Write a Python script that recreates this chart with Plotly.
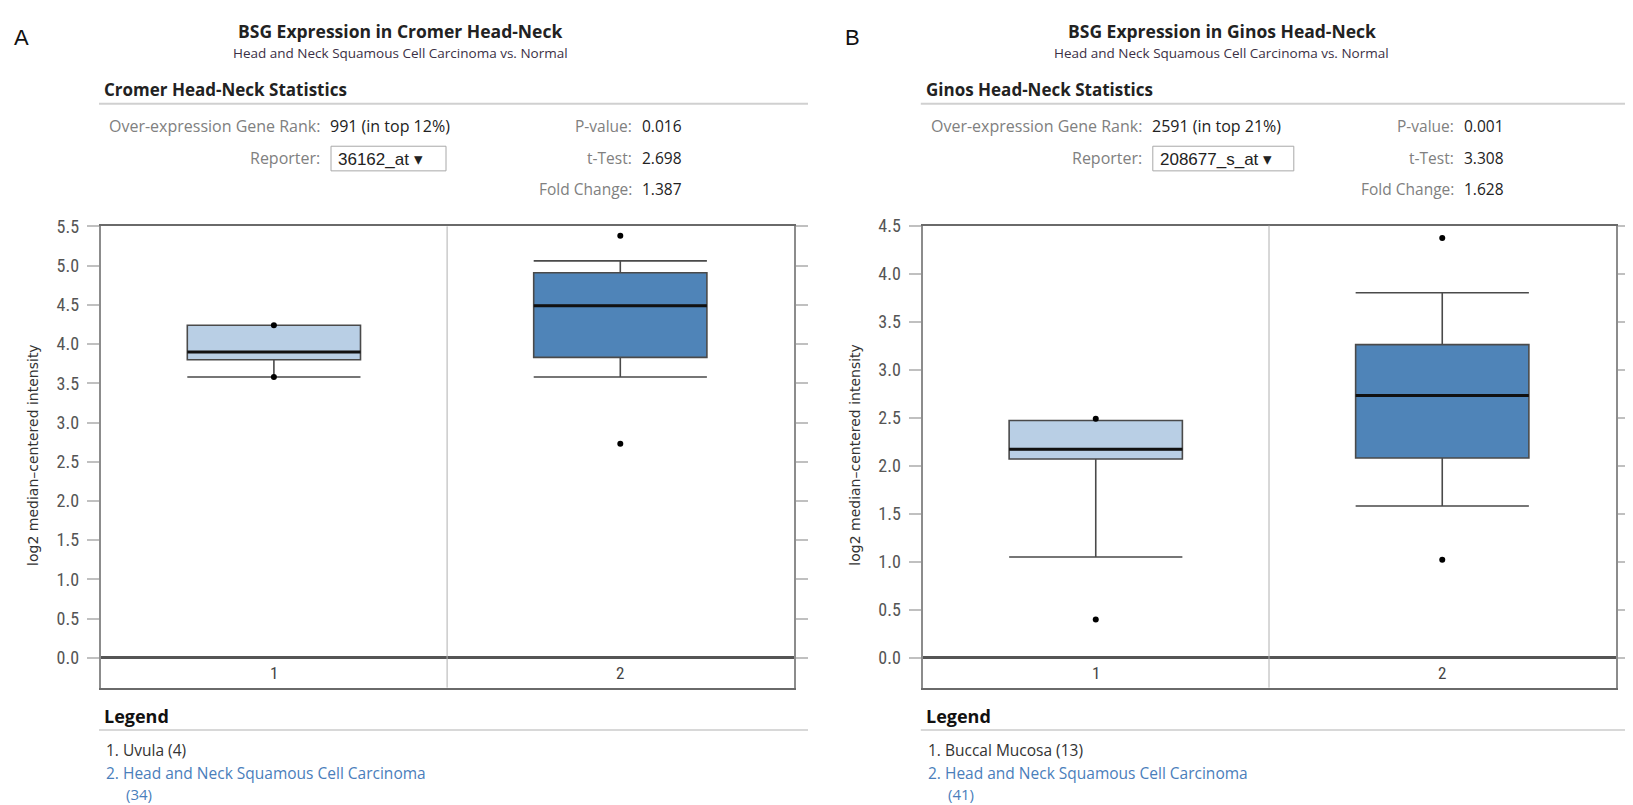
import plotly.graph_objects as go

# page body adds an 8px margin; the figure is sized to fill the rest of the window
PAGE_W, PAGE_H, BODY_M = 1633, 805, 8
W, H = PAGE_W - BODY_M, PAGE_H - BODY_M

# ---------------- data ----------------
categories = [1, 2]
cat_labels = ["1", "2"]

# Panel A: Cromer Head-Neck (reporter 36162_at)
a_q1 = [3.80, 3.83]
a_median = [3.90, 4.49]
a_q3 = [4.24, 4.91]
a_lowerfence = [3.58, 3.58]
a_upperfence = [4.24, 5.06]
a_min = [3.58, 2.73]
a_max = [4.24, 5.38]

# Panel B: Ginos Head-Neck (reporter 208677_s_at)
b_q1 = [2.07, 2.08]
b_median = [2.17, 2.73]
b_q3 = [2.47, 3.26]
b_lowerfence = [1.05, 1.58]
b_upperfence = [2.47, 3.80]
b_min = [0.40, 1.02]
b_max = [2.49, 4.37]

a_title = "BSG Expression in Cromer Head-Neck"
b_title = "BSG Expression in Ginos Head-Neck"
subtitle = "Head and Neck Squamous Cell Carcinoma vs. Normal"
a_stats_title = "Cromer Head-Neck Statistics"
b_stats_title = "Ginos Head-Neck Statistics"
a_rank = "991 (in top 12%)"
b_rank = "2591 (in top 21%)"
a_reporter = "36162_at ▾"
b_reporter = "208677_s_at ▾"
a_pvalue, a_ttest, a_fold = "0.016", "2.698", "1.387"
b_pvalue, b_ttest, b_fold = "0.001", "3.308", "1.628"
a_legend = ["1. Uvula (4)", "2. Head and Neck Squamous Cell Carcinoma", "(34)"]
b_legend = ["1. Buccal Mucosa (13)", "2. Head and Neck Squamous Cell Carcinoma", "(41)"]
y_title = "log2 median\u2013centered intensity"

a_yrange = [-0.38, 5.5]
b_yrange = [-0.31, 4.5]

# ---------------- style ----------------
FILL = ["#B9CFE5", "#4F84B8"]
BOX_W = 0.5
NARROW = "Liberation Sans Narrow, Roboto Condensed, DejaVu Sans Condensed, Arial Narrow, sans-serif"
TXT = "Open Sans, Lato, sans-serif"
SANS = "DejaVu Sans, Verdana, sans-serif"
LEG_BLUE = "#4A7EBB"


def px(x):
    return (x - BODY_M) / W


def py(y):
    return 1 - (y - BODY_M) / H


fig = go.Figure()
annotations = []
shapes = []


def note(x, y, text, size, color, family=TXT, xanchor="left", **kw):
    annotations.append(dict(x=px(x), y=py(y), xref="paper", yref="paper", text=text, showarrow=False,
                            xanchor=xanchor, yanchor="middle",
                            font=dict(family=family, size=size, color=color), **kw))


panels = [
    dict(dx=0.0, xa="x", ya="y", q1=a_q1, med=a_median, q3=a_q3, lf=a_lowerfence, uf=a_upperfence,
         mn=a_min, mx=a_max, yr=a_yrange, title=a_title, stats=a_stats_title, rank=a_rank,
         rep=a_reporter, pv=a_pvalue, tt=a_ttest, fc=a_fold, leg=a_legend, letter="A",
         rep_w=115, letter_x=12),
    dict(dx=821.8, xa="x2", ya="y2", q1=b_q1, med=b_median, q3=b_q3, lf=b_lowerfence, uf=b_upperfence,
         mn=b_min, mx=b_max, yr=b_yrange, title=b_title, stats=b_stats_title, rank=b_rank,
         rep=b_reporter, pv=b_pvalue, tt=b_ttest, fc=b_fold, leg=b_legend, letter="B",
         rep_w=141, letter_x=843),
]

for i, p in enumerate(panels):
    dx = p["dx"]
    xa, ya = p["xa"], p["ya"]
    for k, c in enumerate(categories):
        fig.add_trace(go.Box(
            x=[c], q1=[p["q1"][k]], median=[p["med"][k]], q3=[p["q3"][k]],
            lowerfence=[p["lf"][k]], upperfence=[p["uf"][k]],
            width=BOX_W, whiskerwidth=1, fillcolor=FILL[k],
            line=dict(color="#4a4a4a", width=1.6), boxpoints=False,
            xaxis=xa, yaxis=ya, showlegend=False, hoverinfo="skip"))
        fig.add_trace(go.Scatter(
            x=[c - BOX_W / 2, c + BOX_W / 2], y=[p["med"][k], p["med"][k]],
            mode="lines", line=dict(color="#111", width=3),
            xaxis=xa, yaxis=ya, showlegend=False, hoverinfo="skip"))
        fig.add_trace(go.Scatter(
            x=[c, c], y=[p["mn"][k], p["mx"][k]], mode="markers",
            marker=dict(color="#000", size=6),
            xaxis=xa, yaxis=ya, showlegend=False, hoverinfo="skip"))

    shapes.append(dict(type="line", xref=xa, yref=f"{ya} domain", x0=1.5, x1=1.5, y0=0, y1=1,
                       line=dict(color="#b0b0b0", width=1)))
    for c, lab in zip(categories, cat_labels):
        annotations.append(dict(x=c, y=p["yr"][0] / 2, xref=xa, yref=ya, text=lab, showarrow=False,
                                xanchor="center", yanchor="middle",
                                font=dict(family=NARROW, size=17, color="#444")))

    # ---- header ----
    note(p["letter_x"], 27, p["letter"], 22, "#111", family="Liberation Sans, Arial, sans-serif")
    note(400 + dx, 20, f"<b>{p['title']}</b>", 17.5, "#222", xanchor="center")
    note(400 + dx, 42, subtitle, 13.5, "#3b3045", xanchor="center")
    note(102 + dx, 79, f"<b>{p['stats']}</b>", 17, "#222")
    shapes.append(dict(type="line", xref="paper", yref="paper", x0=px(99 + dx), x1=px(808 + dx),
                       y0=py(94), y1=py(94), line=dict(color="#d0d0d0", width=2)))

    rows_y = [117, 149, 180]
    note(322 + dx, rows_y[0], "Over-expression Gene Rank:", 16, "#808080", xanchor="right")
    note(328 + dx, rows_y[0], p["rank"], 16, "#222")
    note(322 + dx, rows_y[1], "Reporter:", 16, "#808080", xanchor="right")
    shapes.append(dict(type="rect", xref="paper", yref="paper", x0=px(331 + dx), x1=px(331 + p["rep_w"] + dx),
                       y0=py(162), y1=py(137), line=dict(color="#a8a8a8", width=1), fillcolor="white"))
    note(336 + dx, 150, p["rep"], 17, "#222", family="Liberation Sans, Arial, sans-serif")
    for lab, val, yy in [("P-value:", p["pv"], rows_y[0]), ("t-Test:", p["tt"], rows_y[1]),
                         ("Fold Change:", p["fc"], rows_y[2])]:
        note(634 + dx, yy, lab, 15.5, "#808080", xanchor="right")
        note(640 + dx, yy, val, 15.5, "#222")

    note(33 + dx, 450, y_title, 14, "#333", family=SANS, xanchor="center", textangle=-90)

    # ---- legend block ----
    note(102 + dx, 715, "<b>Legend</b>", 18, "#111")
    shapes.append(dict(type="line", xref="paper", yref="paper", x0=px(99 + dx), x1=px(808 + dx),
                       y0=py(729), y1=py(729), line=dict(color="#d8d8d8", width=2)))
    note(104 + dx, 749, p["leg"][0], 15.5, "#333")
    note(104 + dx, 773, p["leg"][1], 15.5, LEG_BLUE)
    note(124 + dx, 794, p["leg"][2], 15, LEG_BLUE)

yaxis_common = dict(showgrid=False, zeroline=True, zerolinecolor="#555", zerolinewidth=2.5,
                    showline=True, linecolor="#8c8c8c", linewidth=2, mirror="ticks",
                    ticks="outside", ticklen=12, tickcolor="#c0c0c0", tickwidth=1.5,
                    tick0=0, dtick=0.5, tickformat=".1f", ticklabelstandoff=4,
                    tickfont=dict(family=NARROW, size=18, color="#555"))
xaxis_common = dict(showgrid=False, zeroline=False, showline=True, linecolor="#6a6a6a", linewidth=2,
                    mirror=True, showticklabels=False, ticks="", range=[0.5, 2.5])

fig.update_layout(
    width=W, height=H, margin=dict(l=0, r=0, t=0, b=0),
    paper_bgcolor="white", plot_bgcolor="white",
    xaxis=dict(domain=[px(100.7), px(793.5)], anchor="y", **xaxis_common),
    yaxis=dict(domain=[py(686), py(218.3)], anchor="x", range=a_yrange, **yaxis_common),
    xaxis2=dict(domain=[px(922.5), px(1615.5)], anchor="y2", **xaxis_common),
    yaxis2=dict(domain=[py(686), py(217.4)], anchor="x2", range=b_yrange, **yaxis_common),
    annotations=annotations, shapes=shapes, showlegend=False,
)

fig.write_html("out.html")
